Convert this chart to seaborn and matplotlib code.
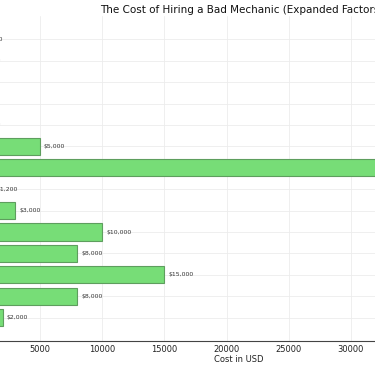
import matplotlib
matplotlib.use("Agg")
import matplotlib.pyplot as plt
import seaborn as sns
import pandas as pd

categories = [
    "Diagnostic Fees", "Towing", "Rental Car", "Lost Time",
    "Unnecessary Parts", "Repeat Repairs", "Engine Replacement",
    "Lost Wages", "Resale Value Loss", "Transmission Damage",
    "Safety Risk", "Accident Risk", "Legal Fees", "Warranty Voided",
]
costs = [500, 300, 250, 200, 300, 5000, 40000, 1200, 3000, 10000, 8000, 15000, 8000, 2000]

df = pd.DataFrame({"Factor": categories, "Cost": costs})

sns.set_theme(style="whitegrid")
plt.rcParams["font.family"] = ["DejaVu Sans"]

fig = plt.figure(figsize=(3.75, 3.66), dpi=100)
ax = fig.add_axes([-22 / 375, 25 / 366, 522 / 375, 325 / 366])

sns.barplot(data=df, x="Cost", y="Factor", orient="h", color="#77dd77",
            saturation=1, edgecolor="#5e9e5e", linewidth=0.8, width=0.8, ax=ax)

n = len(categories)
ax.set_ylim(n - 1 + 1.09, -1.09)
ax.set_xlim(0, max(costs) * 1.05)
ax.set_xticks([0, 5000, 10000, 15000, 20000, 25000, 30000, 35000, 40000])
ax.tick_params(axis="x", labelsize=6, length=2, pad=1, colors="#333333")
ax.tick_params(axis="y", labelsize=6)
for lab in ax.get_xticklabels():
    lab.set_color("#222222")
ax.grid(True, color="#ececec", linewidth=0.6)
for s in ["top", "right"]:
    ax.spines[s].set_visible(False)
ax.spines["bottom"].set_color("#444444")
ax.spines["bottom"].set_linewidth(0.8)
ax.spines["left"].set_visible(False)

for i, v in enumerate(costs):
    ax.text(v + 300, i, f"${v:,}", va="center", ha="left", fontsize=4.4, color="#333333")

ax.set_title("The Cost of Hiring a Bad Mechanic (Expanded Factors)", fontsize=7.5, pad=2.5,
             color="#111111", x=0.5 + 3 / 522)
ax.set_xlabel("Cost in USD", fontsize=6, labelpad=0.5, color="#222222")
ax.set_ylabel("")

fig.savefig("out.png", dpi=100)
